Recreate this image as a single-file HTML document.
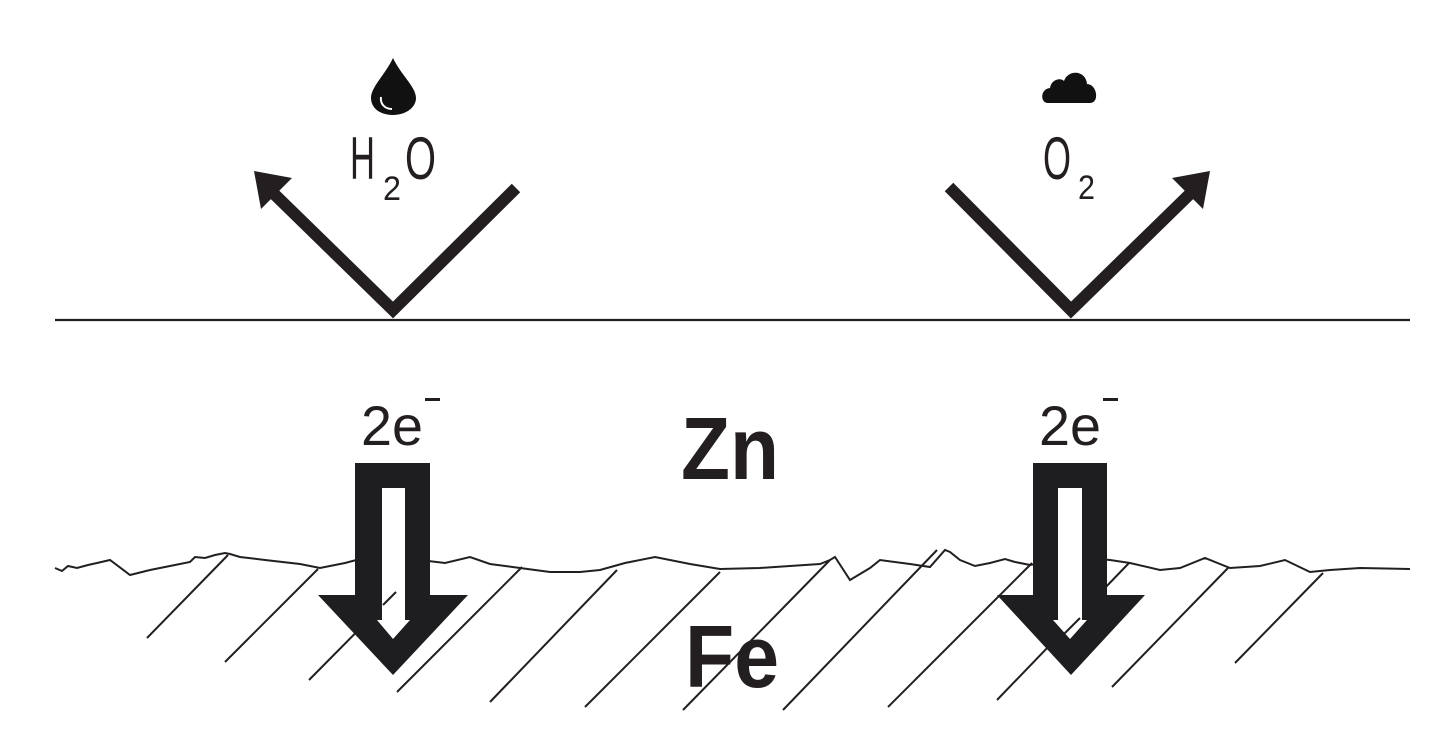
<!DOCTYPE html>
<html><head><meta charset="utf-8"><style>
html,body{margin:0;padding:0;background:#fff;}
svg{display:block;}
text{font-family:"Liberation Sans Narrow","Liberation Sans",sans-serif;fill:#231f20;}
</style></head><body>
<svg width="1432" height="756" viewBox="0 0 1432 756" xmlns="http://www.w3.org/2000/svg">
<rect width="1432" height="756" fill="#fff"/>
<line x1="55" y1="320" x2="1410" y2="320" stroke="#231f20" stroke-width="2.2"/>
<polyline points="268,188 393,310 516,188" fill="none" stroke="#231f20" stroke-width="12" stroke-linejoin="miter"/>
<polygon points="254,171 292,178 261,209" fill="#231f20"/>
<polyline points="949,187 1071,310 1196,188" fill="none" stroke="#231f20" stroke-width="12"/>
<polygon points="1210,171 1172,178 1203,209" fill="#231f20"/>
<path d="M393,58 C385,75 370,88 371,99 C372,110 382,115 393,115 C405,115 416,108 416,98 C416,87 401,75 393,58 Z" fill="#111"/>
<path d="M381,97 C380,104 385,109 392,109" fill="none" stroke="#fff" stroke-width="2"/>
<path d="M1048,103 C1040,103 1040,89 1050,88 C1051,80 1060,77 1064,81 C1068,69 1086,70 1087,84 C1097,84 1100,103 1090,103 Z" fill="#111"/>
<text x="350" y="179" font-size="60" textLength="25" lengthAdjust="spacingAndGlyphs">H</text>
<text x="383" y="200" font-size="34" textLength="18" lengthAdjust="spacingAndGlyphs">2</text>
<text x="405" y="179" font-size="60" textLength="31" lengthAdjust="spacingAndGlyphs">O</text>
<text x="1043" y="179" font-size="60" textLength="28" lengthAdjust="spacingAndGlyphs">O</text>
<text x="1078" y="199" font-size="34" textLength="17" lengthAdjust="spacingAndGlyphs">2</text>
<text x="361" y="445" font-size="56" textLength="62" lengthAdjust="spacingAndGlyphs">2e</text>
<rect x="425" y="398" width="15" height="3" fill="#231f20"/>
<text x="1039" y="445" font-size="56" textLength="62" lengthAdjust="spacingAndGlyphs">2e</text>
<rect x="1103" y="398" width="15" height="3" fill="#231f20"/>
<text x="681" y="479" font-size="88" font-weight="bold" style="font-family:'Liberation Sans',sans-serif" textLength="98" lengthAdjust="spacingAndGlyphs">Zn</text>
<text x="685" y="687" font-size="88" font-weight="bold" style="font-family:'Liberation Sans',sans-serif" textLength="94" lengthAdjust="spacingAndGlyphs">Fe</text>
<g stroke="#231f20" stroke-width="2" fill="none">
<line x1="228" y1="555" x2="147" y2="638"/>
<line x1="318" y1="569" x2="225" y2="662"/>
<line x1="405" y1="583" x2="309" y2="680"/>
<line x1="522" y1="567" x2="397" y2="692"/>
<line x1="617" y1="570" x2="490" y2="702"/>
<line x1="720" y1="572" x2="585" y2="707"/>
<line x1="830" y1="560" x2="683" y2="710"/>
<line x1="937" y1="550" x2="783" y2="710"/>
<line x1="1032" y1="563" x2="888" y2="707"/>
<line x1="1129" y1="563" x2="997" y2="700"/>
<line x1="1228" y1="568" x2="1112" y2="687"/>
<line x1="1323" y1="573" x2="1235" y2="663"/>
</g>
<polyline fill="none" stroke="#231f20" stroke-width="2" points="55,568 62,571 68,566 77,568 88,565 97,563 110,560 130,575 150,570 170,566 190,562 195,557 205,558 215,555 225,553 230,554 240,557 265,560 300,564 320,568 345,563 360,559 380,558 420,560 445,563 470,557 490,564 520,568 550,572 580,572 600,570 625,563 655,557 690,564 720,569 760,568 790,566 820,564 830,560 835,557 850,580 870,568 880,560 910,564 930,567 945,550 950,552 960,560 975,566 990,563 1005,559 1015,562 1030,565 1080,557 1110,560 1130,563 1160,570 1180,568 1205,558 1230,568 1260,566 1285,560 1310,572 1330,570 1360,568 1410,569"/>
<polygon points="355,463 430,463 430,595 468,595 393,675 318,595 355,595" fill="#1e1e20"/>
<polygon points="382,488 405,488 405,620 410,620 393,639 377,620 382,620" fill="#fff"/>
<line x1="396" y1="592" x2="383" y2="605" stroke="#231f20" stroke-width="2"/>
<polygon points="1033,463 1107,463 1107,595 1145,595 1071,675 997,595 1033,595" fill="#1e1e20"/>
<polygon points="1058,488 1082,488 1082,620 1087,620 1070,639 1053,620 1058,620" fill="#fff"/>
<line x1="1080" y1="618" x2="1064" y2="634" stroke="#231f20" stroke-width="2"/>
</svg>
</body></html>
